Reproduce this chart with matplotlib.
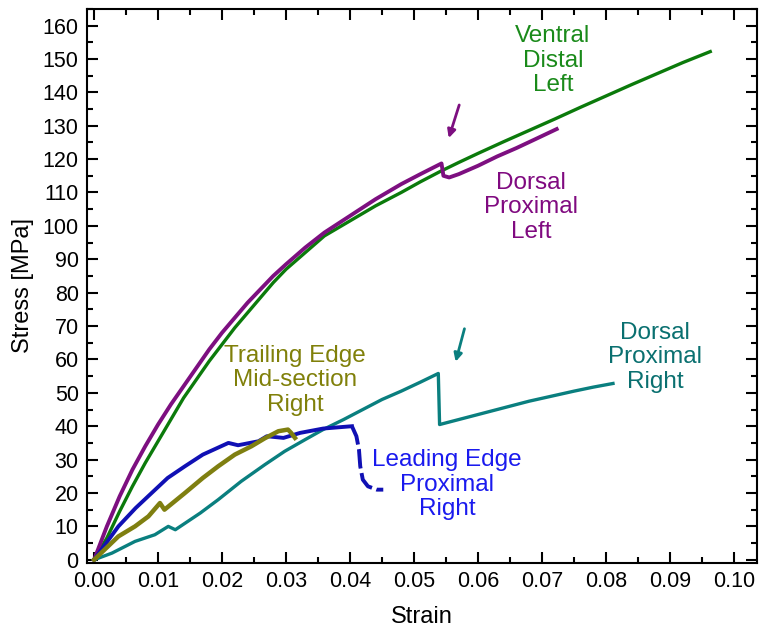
import numpy as np
import matplotlib
matplotlib.use('Agg')
import matplotlib.pyplot as plt
from matplotlib.ticker import MultipleLocator, FormatStrFormatter

plt.rcParams['font.family'] = ['Liberation Sans', 'DejaVu Sans']

# ---- data (strain, stress MPa) ----
ventral_x = [0.0, 0.002, 0.004, 0.006, 0.008, 0.010, 0.012, 0.014, 0.016, 0.018, 0.020,
             0.022, 0.024, 0.026, 0.028, 0.030, 0.033, 0.036, 0.040, 0.044, 0.048, 0.051,
             0.054, 0.057, 0.060, 0.064, 0.068, 0.072, 0.076, 0.080, 0.084, 0.088, 0.092,
             0.0963]
ventral_y = [0.0, 6.5, 14.5, 22, 29, 35.5, 42, 48.5, 54, 59.5, 64.5,
             69.5, 74, 78.5, 83, 87, 92, 97, 101.5, 106, 110, 113.2,
             116.2, 119, 121.7, 125.2, 128.6, 132, 135.5, 138.9, 142.3, 145.6, 148.9,
             152.2]

dorsal_l_x = [0.0, 0.002, 0.004, 0.006, 0.008, 0.010, 0.012, 0.014, 0.016, 0.018, 0.020,
              0.022, 0.024, 0.026, 0.028, 0.030, 0.033, 0.036, 0.040, 0.044, 0.048, 0.051,
              0.0543, 0.0546, 0.0555, 0.057, 0.060, 0.063, 0.066, 0.069, 0.0723]
dorsal_l_y = [0.0, 10, 19, 27, 34, 40.5, 46.5, 52, 57.5, 63, 68,
              72.5, 77, 81, 85, 88.5, 93.5, 98, 103, 108, 112.5, 115.5,
              118.7, 115, 114.5, 115.5, 118, 120.8, 123.3, 126, 129]

dorsal_r_x = [0.0, 0.0028, 0.0064, 0.0095, 0.0116, 0.0127, 0.0166, 0.0194, 0.0230, 0.0267,
              0.0298, 0.0330, 0.0358, 0.039, 0.042, 0.045, 0.048, 0.051, 0.0538, 0.0540,
              0.057, 0.060, 0.064, 0.068, 0.0715, 0.075, 0.078, 0.0811]
dorsal_r_y = [0.0, 2, 5.5, 7.5, 10, 9, 14, 18, 23.5, 28.5, 32.5, 36, 39, 42, 45, 48,
              50.5, 53.2, 55.8, 40.5, 42, 43.5, 45.5, 47.5, 49, 50.5, 51.7, 52.8]

trailing_x = [0.0, 0.0038, 0.0064, 0.0085, 0.0103, 0.011, 0.0142, 0.017, 0.0194, 0.022,
              0.0246, 0.0267, 0.0288, 0.0303, 0.0308, 0.0314]
trailing_y = [0.0, 7, 10, 13, 17, 15, 20, 24.5, 28, 31.5, 34, 36.4, 38.5, 39, 38, 36.5]

leading_x = [0.0, 0.0038, 0.0065, 0.009, 0.0115, 0.0142, 0.017, 0.0194, 0.021, 0.0225,
             0.0257, 0.027, 0.0296, 0.0322, 0.0358, 0.0403]
leading_y = [0.0, 10, 15.5, 20, 24.5, 28, 31.5, 33.6, 35, 34.3, 35.5, 37, 36.5, 38, 39.3, 40]
# post-peak drop (drawn broken, as in the picture)
leading_drop_x = [0.0403, 0.041, 0.0414, 0.0416, 0.042, 0.0428, 0.0442, 0.0452]
leading_drop_y = [40, 37, 33, 28, 24, 22, 21, 21]

fig = plt.figure(figsize=(7.6, 6.32), dpi=100)
ax = fig.add_axes([0.1145, 0.109, 0.8815, 0.877])

lw = 2.4
ax.plot(ventral_x, ventral_y, color='#0b7a0b', lw=lw)
ax.plot(dorsal_l_x, dorsal_l_y, color='#7d0f80', lw=lw + 0.4)
ax.plot(dorsal_r_x, dorsal_r_y, color='#0a7f7f', lw=lw)
ax.plot(leading_x, leading_y, color='#1010b4', lw=lw + 0.4)
ax.plot(leading_drop_x, leading_drop_y, color='#1010b4', lw=lw + 0.4, ls=(0, (5, 1.2)))
ax.plot(trailing_x, trailing_y, color='#7f7f10', lw=lw + 0.8)

# arrows pointing at the load drops
ax.annotate('', xy=(0.0553, 125.5), xytext=(0.0572, 137),
            arrowprops=dict(arrowstyle='-|>', color='#7d0f80', lw=2, mutation_scale=12))
ax.annotate('', xy=(0.0564, 58.5), xytext=(0.0580, 70),
            arrowprops=dict(arrowstyle='-|>', color='#0a7f7f', lw=2, mutation_scale=12))

fs = 17.5
ax.text(0.0717, 149.4, 'Ventral\nDistal\nLeft', color='#1a8a1a', fontsize=fs,
        ha='center', va='center', linespacing=1.15)
ax.text(0.0683, 105.6, 'Dorsal\nProximal\nLeft', color='#800a80', fontsize=fs,
        ha='center', va='center', linespacing=1.15)
ax.text(0.0314, 53.7, 'Trailing Edge\nMid-section\nRight', color='#80800a', fontsize=fs,
        ha='center', va='center', linespacing=1.15)
ax.text(0.0552, 22.5, 'Leading Edge\nProximal\nRight', color='#1a1aee', fontsize=fs,
        ha='center', va='center', linespacing=1.15)
ax.text(0.0877, 60.6, 'Dorsal\nProximal\nRight', color='#0a7070', fontsize=fs,
        ha='center', va='center', linespacing=1.15)

ax.set_xlim(-0.0011, 0.1036)
ax.set_ylim(-1, 165)
ax.xaxis.set_major_locator(MultipleLocator(0.01))
ax.xaxis.set_minor_locator(MultipleLocator(0.005))
ax.xaxis.set_major_formatter(FormatStrFormatter('%.2f'))
ax.yaxis.set_major_locator(MultipleLocator(10))
ax.yaxis.set_minor_locator(MultipleLocator(5))
ax.tick_params(which='both', direction='in', top=True, right=True, width=1.5)
ax.tick_params(which='major', length=8, labelsize=15.5, pad=6)
ax.tick_params(which='minor', length=4)
for s in ax.spines.values():
    s.set_linewidth(1.5)

ax.set_xlabel('Strain', fontsize=17, labelpad=10)
ax.set_ylabel('Stress [MPa]', fontsize=17, labelpad=6)

fig.savefig('out.png', dpi=100)
